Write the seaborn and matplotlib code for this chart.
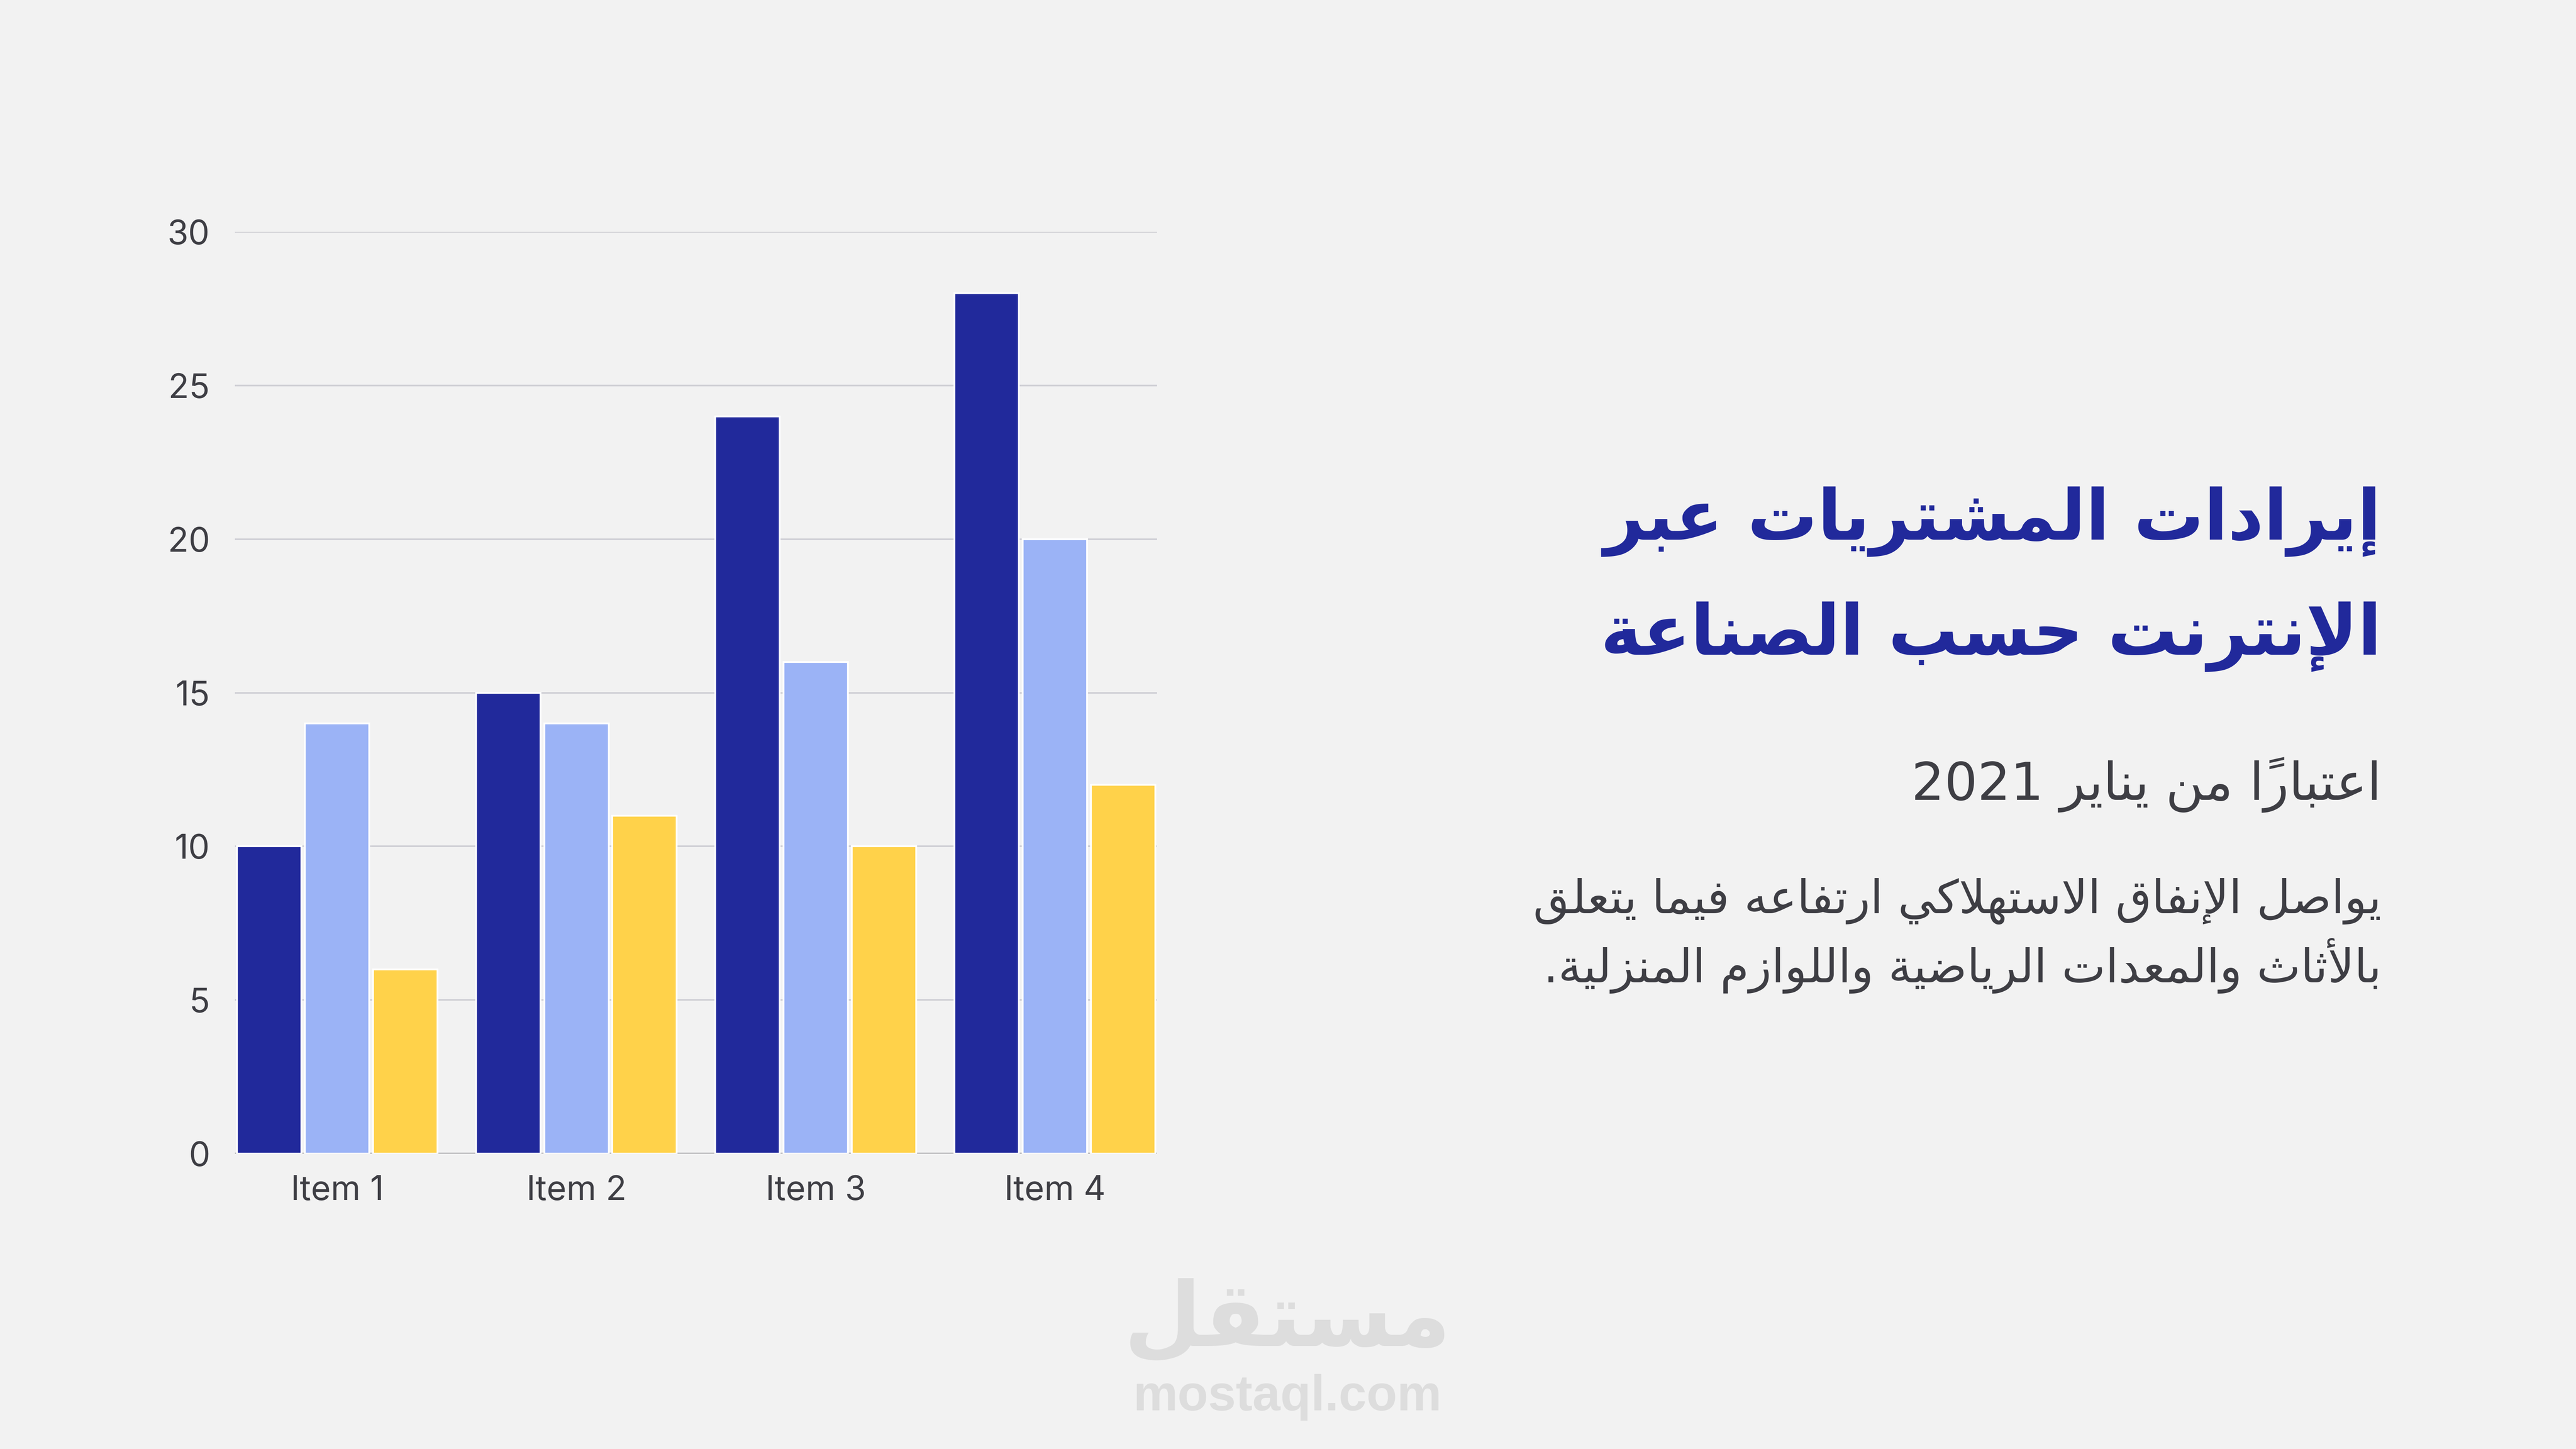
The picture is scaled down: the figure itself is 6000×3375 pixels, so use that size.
import matplotlib
matplotlib.use("Agg")
import matplotlib.pyplot as plt
import seaborn as sns
import pandas as pd

# ── data ──
items = ["Item 1", "Item 2", "Item 3", "Item 4"]
series_names = ["Series 1", "Series 2", "Series 3"]
series_1 = [10, 15, 24, 28]
series_2 = [14, 14, 16, 20]
series_3 = [6, 11, 10, 12]
y_ticks = [0, 5, 10, 15, 20, 25, 30]

title_lines = ["إيرادات المشتريات عبر", "الإنترنت حسب الصناعة"]
subtitle = "اعتبارًا من يناير 2021"
body_lines = ["يواصل الإنفاق الاستهلاكي ارتفاعه فيما يتعلق",
              "بالأثاث والمعدات الرياضية واللوازم المنزلية."]
watermark_ar = "مستقل"
watermark_en = "mostaql.com"

NAVY, LIGHT, YELLOW = "#21299B", "#9BB3F6", "#FFD24A"
BG, TXT = "#F2F2F2", "#3E3E44"

# ── small arabic shaper (matplotlib has no text shaping) ──
_forms = {  # char: (first presentation form, number of forms)
    "ء": (0xFE80, 1), "آ": (0xFE81, 2), "أ": (0xFE83, 2), "ؤ": (0xFE85, 2),
    "إ": (0xFE87, 2), "ئ": (0xFE89, 4), "ا": (0xFE8D, 2), "ب": (0xFE8F, 4),
    "ة": (0xFE93, 2), "ت": (0xFE95, 4), "ث": (0xFE99, 4), "ج": (0xFE9D, 4),
    "ح": (0xFEA1, 4), "خ": (0xFEA5, 4), "د": (0xFEA9, 2), "ذ": (0xFEAB, 2),
    "ر": (0xFEAD, 2), "ز": (0xFEAF, 2), "س": (0xFEB1, 4), "ش": (0xFEB5, 4),
    "ص": (0xFEB9, 4), "ض": (0xFEBD, 4), "ط": (0xFEC1, 4), "ظ": (0xFEC5, 4),
    "ع": (0xFEC9, 4), "غ": (0xFECD, 4), "ف": (0xFED1, 4), "ق": (0xFED5, 4),
    "ك": (0xFED9, 4), "ل": (0xFEDD, 4), "م": (0xFEE1, 4), "ن": (0xFEE5, 4),
    "ه": (0xFEE9, 4), "و": (0xFEED, 2), "ى": (0xFEEF, 2), "ي": (0xFEF1, 4),
}
_lam_alef = {"آ": 0xFEF5, "أ": 0xFEF7, "إ": 0xFEF9, "ا": 0xFEFB}

def is_mark(c):
    return 0x064B <= ord(c) <= 0x0652

def ar(text):
    # units: [base_code_or_char, nforms, marks]
    units, i = [], 0
    while i < len(text):
        c = text[i]
        if is_mark(c) and units:
            units[-1][2] += c; i += 1; continue
        if c == "ل" and i + 1 < len(text) and text[i + 1] in _lam_alef:
            units.append([_lam_alef[text[i + 1]], 2, ""]); i += 2; continue
        if c in _forms:
            units.append([_forms[c][0], _forms[c][1], ""])
        else:
            units.append([c, 0, ""])
        i += 1
    glyphs = []
    for k, (base, n, marks) in enumerate(units):
        if n == 0:
            glyphs.append(marks + base); continue
        jp = k > 0 and units[k - 1][1] == 4
        jn = n == 4 and k + 1 < len(units) and units[k + 1][1] in (2, 4)
        off = 3 if (jp and jn) else 1 if jp and n > 1 else 2 if jn else 0
        glyphs.append(marks + chr(base + off))
    # visual order: reverse, keep digit runs left-to-right
    runs = []
    for g in glyphs:
        if g.isdigit() and runs and runs[-1].isdigit():
            runs[-1] += g
        else:
            runs.append(g)
    return "".join(reversed(runs))

# ── figure ──
sns.set_style("white")
plt.rcParams["font.family"] = ["DejaVu Sans"]
fig = plt.figure(figsize=(20, 11.25), dpi=300, facecolor=BG)
ax = fig.add_axes([0.0912, 0.2039, 0.358, 0.636], facecolor=BG)

df = pd.DataFrame({
    "item": items * 3,
    "series": [s for s in series_names for _ in items],
    "value": series_1 + series_2 + series_3,
})
sns.barplot(data=df, x="item", y="value", hue="series", palette=[NAVY, LIGHT, YELLOW],
            saturation=1, width=0.855, gap=0.055, legend=False, ax=ax, zorder=2)

ax.set_ylim(0, 30)
ax.set_xlim(-0.4275, 3.4275)
ax.set_yticks(y_ticks)
ax.set_xlabel(""); ax.set_ylabel("")
ax.yaxis.grid(True, color="#CFCFD5", lw=0.9)
ax.set_axisbelow(True)
ax.axhline(0, color="#A0A0A4", lw=1.3, zorder=1)
sns.despine(ax=ax, left=True, bottom=True)
ax.tick_params(axis="y", length=0, pad=14, labelsize=19, labelcolor=TXT)
ax.tick_params(axis="x", length=0, pad=12, labelsize=19, labelcolor=TXT)
for lab in ax.get_xticklabels() + ax.get_yticklabels():
    lab.set_family("Inter")

# ── right side text ──
xr = 0.9245
fig.text(xr, 1 - 1257 / 3375, ar(title_lines[0]), ha="right", va="baseline",
         fontsize=39, fontweight="bold", color=NAVY)
fig.text(xr, 1 - 1525 / 3375, ar(title_lines[1]), ha="right", va="baseline",
         fontsize=39, fontweight="bold", color=NAVY)
fig.text(xr, 1 - 1863 / 3375, ar(subtitle), ha="right", va="baseline",
         fontsize=29, color=TXT)
fig.text(xr, 1 - 2127 / 3375, ar(body_lines[0]), ha="right", va="baseline",
         fontsize=26, color=TXT)
fig.text(xr, 1 - 2288 / 3375, ar(body_lines[1]), ha="right", va="baseline",
         fontsize=26, color=TXT)

# ── watermark ──
fig.text(0.4998, 1 - 3135 / 3375, ar(watermark_ar), ha="center", va="baseline",
         fontsize=50, fontweight="bold", color="#DDDDDD")
fig.text(0.4998, 1 - 3285 / 3375, watermark_en, ha="center", va="baseline",
         fontsize=28, fontweight="bold", family="Liberation Sans", color="#DDDDDD")

fig.savefig("out.png", dpi=300, facecolor=BG)
